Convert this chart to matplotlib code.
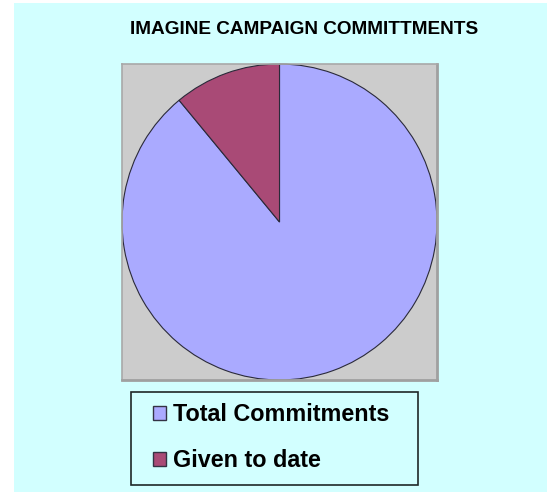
import matplotlib
matplotlib.use("Agg")
import matplotlib.pyplot as plt
from matplotlib.patches import Rectangle, Patch

# chart data
labels = ["Total Commitments", "Given to date"]
amounts = [8.9, 1.1]
colors = ["#AAAAFF", "#A94A76"]
title = "IMAGINE CAMPAIGN COMMITTMENTS"

W, H = 547, 492
plt.rcParams['font.family'] = ['Liberation Sans', 'DejaVu Sans']

fig = plt.figure(figsize=(W / 100, H / 100), dpi=100)
fig.patch.set_facecolor("white")

# cyan chart area (white strip left and top)
fig.patches.append(Rectangle((14 / W, 0), 1 - 14 / W, (H - 3) / H,
                             transform=fig.transFigure, facecolor="#D2FFFF",
                             edgecolor="none", zorder=-2))

# plot area
ax = fig.add_axes([122 / W, (H - 380) / H, 315 / W, 316 / H])
ax.set_zorder(1)
wedges, _ = ax.pie(amounts, colors=colors, startangle=90, counterclock=False,
                   radius=1.0,
                   wedgeprops=dict(edgecolor="#2A2A3A", linewidth=0.8))
ax.set_frame_on(True)
ax.set_facecolor("#CCCCCC")
ax.set_aspect("auto")
ax.set_xlim(-1.0, 1.0)
ax.set_ylim(-1.0, 1.0)
ax.set_xticks([])
ax.set_yticks([])
for side in ["left", "top"]:
    ax.spines[side].set_visible(True)
    ax.spines[side].set_color("#A8A8A8")
    ax.spines[side].set_linewidth(1.2)
for side in ["right", "bottom"]:
    ax.spines[side].set_visible(True)
    ax.spines[side].set_color("#A0A0A0")
    ax.spines[side].set_linewidth(2.0)

fig.text(304 / W, 1 - 30 / H, title, ha="center", va="center",
         fontsize=13.7, fontweight="bold", color="black")

# legend box
fig.patches.append(Rectangle((131 / W, (H - 485) / H), 287 / W, 93 / H,
                             transform=fig.transFigure, facecolor="#D2FFFF",
                             edgecolor="#202828", linewidth=1.2, zorder=-1))
handles = [Patch(facecolor=c, edgecolor="#333344", linewidth=1.0) for c in colors]
leg = fig.legend(handles, labels, loc="upper left",
                 bbox_to_anchor=(153 / W, 1 - 403 / H),
                 frameon=False, borderpad=0, borderaxespad=0,
                 prop=dict(size=16.8, weight="bold"),
                 handlelength=0.55, handleheight=0.55, handletextpad=0.3,
                 labelspacing=1.0)
leg.set_zorder(2)

fig.savefig("out.png", dpi=100)
